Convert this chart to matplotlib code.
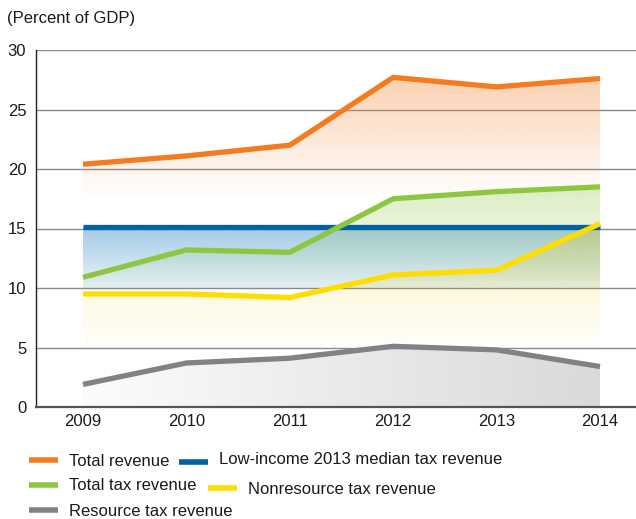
import numpy as np
import matplotlib
matplotlib.use("Agg")
import matplotlib.pyplot as plt
from matplotlib.lines import Line2D

plt.rcParams['font.family'] = ['Liberation Sans', 'DejaVu Sans']

years = [2009, 2010, 2011, 2012, 2013, 2014]
total_revenue = [20.4, 21.1, 22.0, 27.7, 26.9, 27.6]
total_tax = [10.9, 13.2, 13.0, 17.5, 18.1, 18.5]
nonresource_tax = [9.5, 9.5, 9.2, 11.1, 11.5, 15.4]
resource_tax = [1.9, 3.7, 4.1, 5.1, 4.8, 3.4]
median_lic = [15.1] * 6

labels = ["Total revenue", "Low-income 2013 median tax revenue",
          "Total tax revenue", "Nonresource tax revenue", "Resource tax revenue"]
yticks = [0, 5, 10, 15, 20, 25, 30]

C_OR = '#F47B20'
C_BL = '#0062A3'
C_GR = '#8DC63F'
C_YE = '#FFDD00'
C_GY = '#808285'

W, H = 636, 519
FS = 12
fig = plt.figure(figsize=(W / 100, H / 100), dpi=100)
ax = fig.add_axes([36 / W, 1 - 407 / H, 1 - 36 / W, (407 - 50) / H])

x = np.array(years, dtype=float)


def hexrgb(h):
    h = h.lstrip('#')
    return [int(h[i:i + 2], 16) / 255 for i in (0, 2, 4)]


def vgrad(ytop, ybot, rgb, ystops, astops, z):
    ytop = np.asarray(ytop, float)
    ybot = np.asarray(ybot, float)
    poly = ax.fill_between(x, ytop, ybot, facecolor='none', edgecolor='none')
    lo = min(ybot.min(), ytop.min())
    hi = max(ybot.max(), ytop.max())
    yy = np.linspace(lo, hi, 400)
    img = np.zeros((400, 1, 4))
    img[..., :3] = rgb
    img[:, 0, 3] = np.interp(yy, ystops, astops)
    im = ax.imshow(img, extent=[x.min(), x.max(), lo, hi], origin='lower',
                   aspect='auto', zorder=z, interpolation='bilinear')
    im.set_clip_path(poly.get_paths()[0], ax.transData)


def hgrad(ytop, ybot, rgb, a0, a1, z):
    ytop = np.asarray(ytop, float)
    ybot = np.asarray(ybot, float)
    poly = ax.fill_between(x, ytop, ybot, facecolor='none', edgecolor='none')
    img = np.zeros((1, 400, 4))
    img[..., :3] = rgb
    img[0, :, 3] = np.linspace(a0, a1, 400)
    im = ax.imshow(img, extent=[x.min(), x.max(), ybot.min(), ytop.max()],
                   origin='lower', aspect='auto', zorder=z, interpolation='bilinear')
    im.set_clip_path(poly.get_paths()[0], ax.transData)


# gradient areas
vgrad(total_revenue, [17.5] * 6, hexrgb(C_OR), [17.5, 28], [0.0, 0.36], 1.0)
vgrad(median_lic, [10.0] * 6, hexrgb('#5AA0D2'), [10.0, 15.1], [0.14, 0.55], 1.1)
vgrad(total_tax, [10.0] * 6, hexrgb(C_GR), [10.0, 13.0, 18.5], [0.03, 0.13, 0.30], 1.2)
vgrad(nonresource_tax, [5.0] * 6, hexrgb('#F2D000'), [5.0, 10.0, 15.4], [0.02, 0.13, 0.30], 1.3)
hgrad(resource_tax, [0.0] * 6, hexrgb(C_GY), 0.03, 0.30, 1.4)

# lines
lw = 3.8
ax.plot(years, total_revenue, color=C_OR, lw=lw, zorder=5, solid_capstyle='butt')
ax.plot(years, median_lic, color=C_BL, lw=lw, zorder=5, solid_capstyle='butt')
ax.plot(years, total_tax, color=C_GR, lw=lw, zorder=5, solid_capstyle='butt')
ax.plot(years, nonresource_tax, color=C_YE, lw=lw, zorder=6, solid_capstyle='butt')
ax.plot(years, resource_tax, color=C_GY, lw=lw, zorder=5, solid_capstyle='butt')

ax.set_xlim(2008.545, 2014.348)
ax.set_ylim(0, 30)
ax.set_yticks(yticks)
ax.set_xticks(years)
ax.set_xticklabels([str(y) for y in years])
ax.tick_params(axis='both', length=0, labelsize=FS, colors='#1a1a1a')
ax.tick_params(axis='y', pad=7)
ax.tick_params(axis='x', pad=5)
ax.grid(axis='y', color='#8a8a8a', lw=1.0, zorder=0.5)
ax.set_axisbelow(True)
for s in ['top', 'right']:
    ax.spines[s].set_visible(False)
ax.spines['left'].set_color('#222222')
ax.spines['left'].set_linewidth(1.0)
ax.spines['bottom'].set_color('#555555')
ax.spines['bottom'].set_linewidth(1.6)

fig.text(7 / W, 1 - 18 / H, "(Percent of GDP)", fontsize=FS, va='center', ha='left',
         color='#1a1a1a')

# legend
items = [
    (29, 460, 69, 461, C_OR, labels[0]),
    (179, 462, 219, 460, C_BL, labels[1]),
    (29, 485, 69, 485, C_GR, labels[2]),
    (208, 488, 248, 489, C_YE, labels[3]),
    (29, 510, 69, 512, C_GY, labels[4]),
]
for hx, hy, tx, ty, col, lab in items:
    fig.add_artist(Line2D([hx / W, (hx + 29) / W], [1 - hy / H, 1 - hy / H],
                          color=col, lw=4.0, transform=fig.transFigure,
                          solid_capstyle='butt'))
    fig.text(tx / W, 1 - ty / H, lab, fontsize=FS, va='center', ha='left',
             color='#1a1a1a')

fig.savefig("out.png", dpi=100)
